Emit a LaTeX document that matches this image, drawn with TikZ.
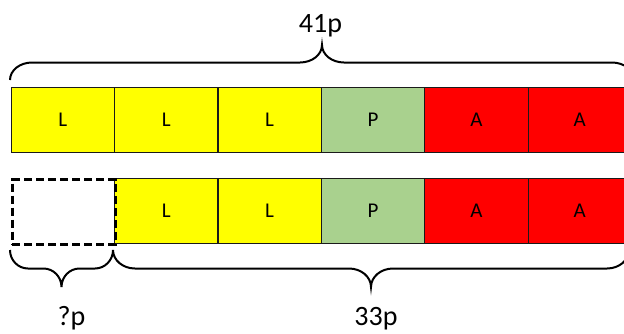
\documentclass[tikz,border=0pt]{standalone}
\usepackage{fontspec}
\setmainfont{Carlito}
\definecolor{cellyellow}{HTML}{FFFF00}
\definecolor{cellgreen}{HTML}{A9D18E}
\definecolor{cellred}{HTML}{FF0000}
\definecolor{celledge}{HTML}{1A1A1A}

% Curly brace: #1 left x, #2 right x, #3 y of the ends, #4 y of the bar,
% #5 y of the tip, #6 radius of the rounded parts
\newcommand\drawbrace[6]{%
  \pgfmathsetmacro\bxm{(#1+#2)/2}%
  \draw[bracestyle]
    (#1,#3) .. controls (#1,{#3+0.552*(#4-#3)}) and ({#1+#6-0.552*#6},#4) .. ({#1+#6},#4)
    -- ({\bxm-#6},#4) .. controls ({\bxm-#6+0.552*#6},#4) and (\bxm,{#5+0.552*(#4-#5)}) .. (\bxm,#5)
    .. controls (\bxm,{#5+0.552*(#4-#5)}) and ({\bxm+#6-0.552*#6},#4) .. ({\bxm+#6},#4)
    -- ({#2-#6},#4) .. controls ({#2-#6+0.552*#6},#4) and (#2,{#3+0.552*(#4-#3)}) .. (#2,#3);%
}

\tikzset{
  cell/.style={draw=celledge, line width=1.2pt, minimum width=103.4pt,
    minimum height=65pt, inner sep=0pt, anchor=north west,
    font=\fontsize{21}{21}\selectfont},
  lcell/.style={cell, fill=cellyellow},
  pcell/.style={cell, fill=cellgreen},
  acell/.style={cell, fill=cellred},
  gapcell/.style={draw=black, line width=3pt, dash pattern=on 8pt off 4pt,
    minimum width=103.4pt, minimum height=65pt, inner sep=0pt, anchor=north west},
  bracestyle/.style={draw=black, line width=2pt},
  sizelabel/.style={font=\fontsize{28}{28}\selectfont, anchor=base, inner sep=0pt},
}

\begin{document}
\begin{tikzpicture}[x=1pt, y=-1pt]
  \useasboundingbox (0,0) rectangle (624,333);
  \clip (0,0) rectangle (624,333);

  % full sequence
  \node[lcell] (t1) at (10.5,87) {L};
  \node[lcell] (t2) at (113.9,87) {L};
  \node[lcell] (t3) at (217.3,87) {L};
  \node[pcell] (t4) at (320.7,87) {P};
  \node[acell] (t5) at (424.1,87) {A};
  \node[acell] (t6) at (527.5,87) {A};

  % shortened sequence with a missing first cell
  \node[lcell] (b2) at (113.9,178) {L};
  \node[lcell] (b3) at (217.3,178) {L};
  \node[pcell] (b4) at (320.7,178) {P};
  \node[acell] (b5) at (424.1,178) {A};
  \node[acell] (b6) at (527.5,178) {A};
  \node[gapcell] (b1) at (10.5,178) {};

  % braces and sizes
  \drawbrace{10}{634}{80}{62.5}{45}{22}
  \node[sizelabel] (total) at (320.5,32) {41p};

  \drawbrace{10}{113}{250}{268.5}{287}{18}
  \node[sizelabel] (missing) at (71.5,325) {?p};

  \drawbrace{113}{629}{250}{268.5}{287}{22}
  \node[sizelabel] (rest) at (376,325) {33p};
\end{tikzpicture}
\end{document}
